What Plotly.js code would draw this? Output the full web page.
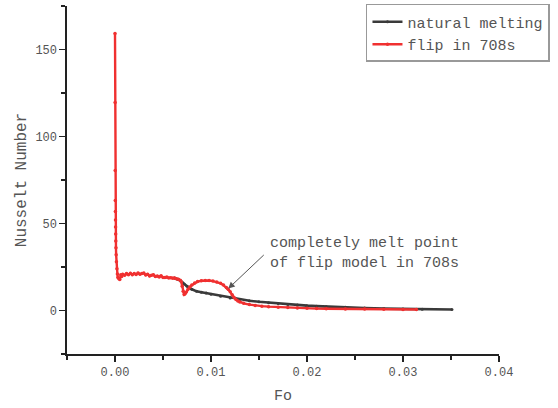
<!DOCTYPE html>
<html>
<head>
<meta charset="utf-8">
<script src="https://cdn.plot.ly/plotly-3.0.1.min.js"></script>
<style>html,body{margin:0;padding:0;background:#fff;}#chart{width:558px;height:408px;}</style>
</head>
<body>
<div id="chart"></div>
<script>
// Fourier number (x) and Nusselt number (y)
const flipFo = [0, 0.00001, 0.00002, 0.00003, 0.00004, 0.00005, 0.00006, 0.00007, 0.00008, 0.0001, 0.00012, 0.00015, 0.0002, 0.00025, 0.0003, 0.0004, 0.0005,
  0.0006, 0.0007, 0.0008, 0.001, 0.0012, 0.0014, 0.0016, 0.0018, 0.002, 0.0022, 0.0024, 0.0026, 0.0028, 0.003, 0.0032, 0.0034, 0.0036, 0.0038, 0.004,
  0.0042, 0.0044, 0.0046, 0.0048, 0.005, 0.0052, 0.0054, 0.0056, 0.0058, 0.006, 0.0062, 0.0064, 0.0066, 0.0068, 0.0069, 0.007, 0.0071, 0.0072, 0.0073,
  0.0074, 0.0076, 0.0078, 0.008, 0.0083, 0.0086, 0.009, 0.0094, 0.0098, 0.0102, 0.0106, 0.011, 0.0113, 0.0116, 0.0118, 0.012, 0.0122, 0.0124, 0.0126,
  0.0128, 0.013, 0.0134, 0.014, 0.0146, 0.0153, 0.016, 0.017, 0.018, 0.019, 0.02, 0.021, 0.022, 0.024, 0.026, 0.028, 0.03, 0.0314];
const flipNu = [159.2, 119.5, 80.5, 63.2, 56.9, 52, 48, 44, 40, 36, 32, 28, 24, 21, 19, 18.2, 17.8,
  20.5, 19.5, 20.8, 20.2, 21.2, 20.6, 21.4, 20.5, 21.3, 20.7, 21.6, 20.8, 21.2, 21.5, 20.4, 20.9, 19.8, 20.2, 20.6,
  19.5, 19.8, 19.3, 19.9, 19.0, 18.9, 19.2, 18.7, 18.8, 18.5, 18.7, 18.2, 17.9, 17.4, 16.5, 14.0, 11.0, 9.2, 9.6,
  10.5, 12.2, 13.5, 14.6, 15.8, 16.6, 17.1, 17.3, 17.2, 16.9, 16.4, 15.6, 14.6, 13.2, 12.2, 10.8, 9.0, 7.4, 6.3,
  5.5, 4.9, 4.1, 3.4, 2.9, 2.5, 2.2, 1.9, 1.7, 1.5, 1.3, 1.1, 1.0, 0.9, 0.8, 0.7, 0.6, 0.6];

const naturalFo = [0.0062, 0.0064, 0.0066, 0.0068, 0.007, 0.0072, 0.0075, 0.008, 0.0085, 0.009, 0.0095, 0.01, 0.011, 0.012, 0.013, 0.014, 0.015,
  0.016, 0.017, 0.018, 0.019, 0.02, 0.021, 0.022, 0.024, 0.026, 0.028, 0.03, 0.032, 0.0351];
const naturalNu = [18.7, 18.2, 17.9, 17.2, 16.3, 15.3, 14.0, 12.2, 11.0, 10.5, 10.0, 9.3, 8.2, 7.2, 6.3, 5.6, 5.0,
  4.5, 4.0, 3.5, 3.1, 2.8, 2.5, 2.2, 1.8, 1.4, 1.1, 0.9, 0.75, 0.6];

const seriesNames = ['natural melting', 'flip in 708s'];
const xTickVals = [0, 0.01, 0.02, 0.03, 0.04];
const yTickVals = [0, 50, 100, 150];
const noteText = 'completely melt point<br>of flip model in 708s';
const notePoint = [0.0118, 12.6];

const mono = 'Liberation Mono, monospace';
const textColor = '#555';

const traces = [
  {x: naturalFo, y: naturalNu, name: seriesNames[0], type: 'scatter', mode: 'lines+markers',
   line: {color: '#3a3a3a', width: 2.6}, marker: {color: '#3a3a3a', size: 3}},
  {x: flipFo, y: flipNu, name: seriesNames[1], type: 'scatter', mode: 'lines+markers',
   line: {color: '#f03030', width: 2.4}, marker: {color: '#f03030', size: 3.5}}
];

const layout = {
  width: 558, height: 408,
  margin: {l: 67, r: 59, t: 5, b: 54},
  paper_bgcolor: '#fff', plot_bgcolor: '#fff',
  showlegend: true,
  legend: {x: 1.118, y: 1.003, xanchor: 'right', yanchor: 'top', bordercolor: '#999', borderwidth: 1.5,
    bgcolor: '#fff', font: {family: mono, size: 15, color: textColor}, traceorder: 'normal',
    itemwidth: 30, tracegroupgap: 0},
  xaxis: {range: [-0.005, 0.04], tickvals: xTickVals, ticktext: xTickVals.map(v => v.toFixed(2)),
    showline: true, linecolor: '#222', linewidth: 1.6, ticks: 'outside', ticklen: 6, tickwidth: 1.6, tickcolor: '#222',
    minor: {dtick: 0.005, tick0: 0, ticks: 'outside', ticklen: 4, tickwidth: 1.4, tickcolor: '#222', showgrid: false},
    showgrid: false, zeroline: false, mirror: false,
    tickfont: {family: mono, size: 12, color: textColor},
    title: {text: 'Fo', font: {family: mono, size: 15, color: textColor}, standoff: 10}},
  yaxis: {range: [-25, 175], tickvals: yTickVals,
    showline: true, linecolor: '#222', linewidth: 1.6, ticks: 'outside', ticklen: 6, tickwidth: 1.6, tickcolor: '#222',
    minor: {dtick: 25, tick0: 0, ticks: 'outside', ticklen: 4, tickwidth: 1.4, tickcolor: '#222', showgrid: false},
    showgrid: false, zeroline: false, mirror: false,
    tickfont: {family: mono, size: 12, color: textColor},
    title: {text: 'Nusselt Number', font: {family: mono, size: 16, color: textColor}, standoff: 5}},
  annotations: [
    {x: 0.0159, y: 32.8, xref: 'x', yref: 'y', text: noteText, showarrow: false, xanchor: 'left', yanchor: 'middle',
     align: 'left', font: {family: mono, size: 15, color: textColor}},
    {x: notePoint[0], y: notePoint[1], xref: 'x', yref: 'y', text: '', showarrow: true, ax: 37, ay: -35,
     arrowhead: 2, arrowsize: 1.3, arrowwidth: 1, arrowcolor: '#555'}
  ]
};

Plotly.newPlot('chart', traces, layout, {displayModeBar: false, staticPlot: true});
</script>
</body>
</html>
